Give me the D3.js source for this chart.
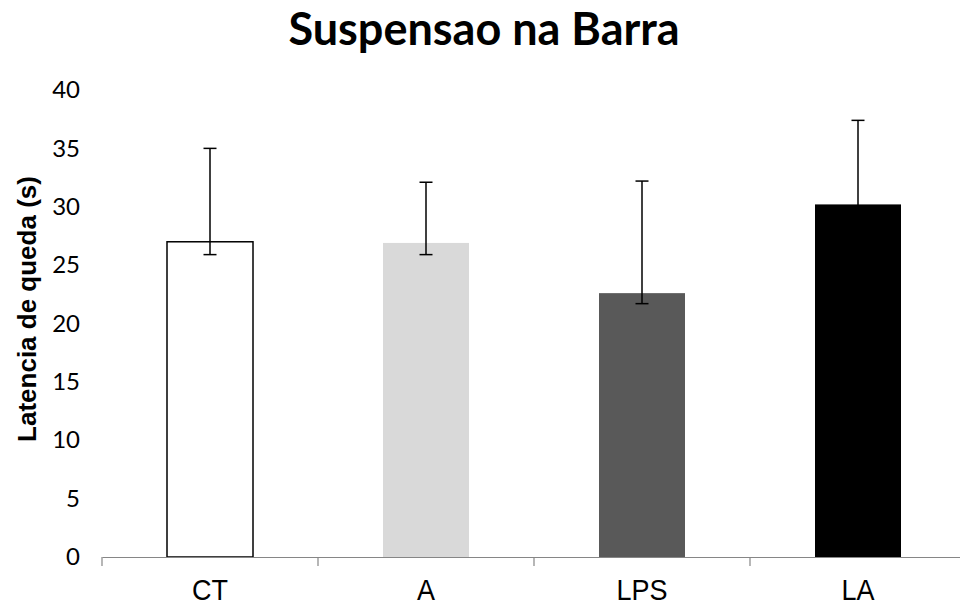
<!DOCTYPE html>
<html>
<head>
<meta charset="utf-8">
<script src="https://cdn.jsdelivr.net/npm/d3@7"></script>
<style>
  body { margin: 0; background: #fff; }
</style>
</head>
<body>
<svg id="chart" width="960" height="610"></svg>
<script>
// data
const groups = ["CT", "A", "LPS", "LA"]
const means = [27.0, 26.9, 22.6, 30.2]
const errHigh = [35.0, 32.1, 32.2, 37.4]
const errLow = [25.9, 25.9, 21.7, 29.3]
const barColors = ["#ffffff", "#d9d9d9", "#595959", "#000000"]
const yTicks = [0, 5, 10, 15, 20, 25, 30, 35, 40]

const margins = { top: 90, bottom: 53, left: 102, right: -6 }
const svg = d3.select("#chart")
const W = +svg.attr("width"), H = +svg.attr("height")
const width = W - margins.left - margins.right
const height = H - margins.top - margins.bottom

const x = d3.scaleBand().domain(groups).range([0, width]).paddingInner(0).paddingOuter(0)
const y = d3.scaleLinear().domain([0, 40]).range([height, 0])

const g = svg.append("g").attr("transform", "translate(" + margins.left + "," + margins.top + ")")

// title
svg.append("text")
    .attr("x", 484).attr("y", 45)
    .attr("text-anchor", "middle")
    .attr("font-family", "Lato, sans-serif")
    .attr("font-weight", "bold")
    .attr("font-size", 45)
    .text("Suspensao na Barra")

// y axis labels only, no line
const yAxis = g.append("g")
    .call(d3.axisLeft(y).tickValues(yTicks).tickSize(0).tickPadding(22))
yAxis.select(".domain").remove()
yAxis.selectAll("text")
    .attr("font-family", "Lato, sans-serif")
    .attr("font-size", 24)
    .attr("fill", "#000")

svg.append("text")
    .attr("transform", "translate(36,309) rotate(-90)")
    .attr("text-anchor", "middle")
    .attr("font-family", "Liberation Sans, Arial, sans-serif")
    .attr("font-weight", "bold")
    .attr("font-size", 26)
    .text("Latencia de queda (s)")

// bars
const barW = 86
g.selectAll(".bar")
    .data(groups)
    .enter()
    .append("rect")
    .attr("class", "bar")
    .attr("x", d => x(d) + (x.bandwidth() - barW) / 2)
    .attr("y", (d, i) => y(means[i]))
    .attr("width", barW)
    .attr("height", (d, i) => height - y(means[i]))
    .attr("fill", (d, i) => barColors[i])
    .attr("stroke", (d, i) => i === 0 ? "#000" : "none")
    .attr("stroke-width", 1.5)

// x axis
const xAxis = g.append("g")
    .attr("transform", "translate(0," + height + ")")
    .call(d3.axisBottom(x).tickSize(0).tickPadding(22))
xAxis.select(".domain").attr("stroke", "#868686").attr("stroke-width", 1.2)
xAxis.selectAll("text")
    .attr("font-family", "Liberation Sans, Arial, sans-serif")
    .attr("font-size", 30)
    .attr("transform", "scale(0.9,1)")
    .attr("fill", "#000")
g.selectAll(".boundary")
    .data(groups)
    .enter()
    .append("line")
    .attr("x1", d => x(d)).attr("x2", d => x(d))
    .attr("y1", height).attr("y2", height + 9)
    .attr("stroke", "#868686").attr("stroke-width", 1.2)

// error bars
const capW = 13
const errs = g.selectAll(".err").data(groups).enter().append("g").attr("class", "err")
    .attr("stroke", "#000").attr("stroke-width", 1.5)
errs.append("line")
    .attr("x1", d => x(d) + x.bandwidth() / 2).attr("x2", d => x(d) + x.bandwidth() / 2)
    .attr("y1", (d, i) => y(errHigh[i])).attr("y2", (d, i) => y(errLow[i]))
errs.append("line")
    .attr("x1", d => x(d) + x.bandwidth() / 2 - capW / 2).attr("x2", d => x(d) + x.bandwidth() / 2 + capW / 2)
    .attr("y1", (d, i) => y(errHigh[i])).attr("y2", (d, i) => y(errHigh[i]))
errs.append("line")
    .attr("x1", d => x(d) + x.bandwidth() / 2 - capW / 2).attr("x2", d => x(d) + x.bandwidth() / 2 + capW / 2)
    .attr("y1", (d, i) => y(errLow[i])).attr("y2", (d, i) => y(errLow[i]))
</script>
</body>
</html>
